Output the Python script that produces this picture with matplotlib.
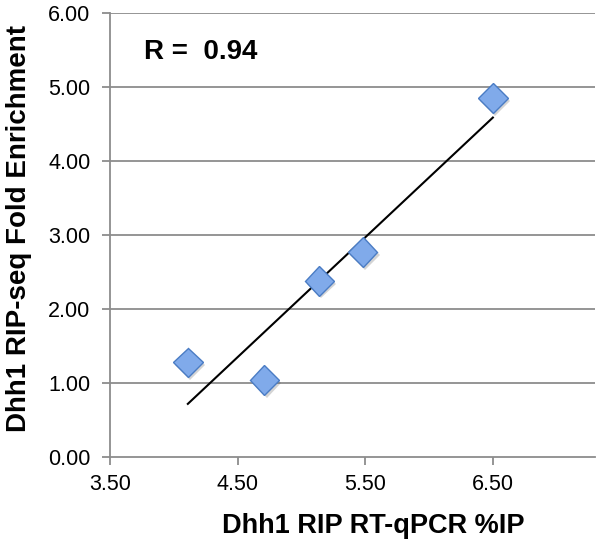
import matplotlib.pyplot as plt
import matplotlib.patheffects as pe
import numpy as np

plt.rcParams['font.family'] = ['Liberation Sans', 'DejaVu Sans']

# valores
pct_ip = [4.11, 4.71, 5.14, 5.48, 6.50]
fold_enr = [1.28, 1.04, 2.38, 2.77, 4.85]
xticks = [3.5, 4.5, 5.5, 6.5]
yticks = [0, 1, 2, 3, 4, 5, 6]

fig = plt.figure(figsize=(6.03, 5.47), dpi=100)
ax = fig.add_axes([0.1824, 0.1645, 0.8043, 0.8115])

gris = '#8c8c8c'
for y in yticks[1:]:
    ax.axhline(y, color=gris, lw=1.3, zorder=1)

# linea de tendencia (minimos cuadrados)
m, b = np.polyfit(pct_ip, fold_enr, 1)
xs = np.array([min(pct_ip), max(pct_ip)])
ax.plot(xs, m * xs + b, color='black', lw=1.5, zorder=2)

ax.plot(pct_ip, fold_enr, linestyle='none', marker='D', markersize=15,
        markerfacecolor='#80aaea', markeredgecolor='#4a7cc4', markeredgewidth=1.0,
        zorder=3,
        path_effects=[pe.SimplePatchShadow(offset=(1.5, -2), alpha=0.25, shadow_rgbFace='#555555'),
                      pe.Normal()])

ax.set_xlim(3.5, 7.3)
ax.set_ylim(0, 6)
ax.set_xticks(xticks)
ax.set_yticks(yticks)
ax.set_xticklabels(['%.2f' % v for v in xticks])
ax.set_yticklabels(['%.2f' % v for v in yticks])
ax.tick_params(axis='both', colors=gris, labelcolor='black', labelsize=15.5,
               length=6, width=1.3, direction='out')
ax.tick_params(axis='y', pad=8)
ax.tick_params(axis='x', pad=6)

for s in ['top', 'right']:
    ax.spines[s].set_visible(False)
for s in ['left', 'bottom']:
    ax.spines[s].set_color(gris)
    ax.spines[s].set_linewidth(1.3)

ax.set_xlabel('Dhh1 RIP RT-qPCR %IP', fontsize=19.5, fontweight='bold', labelpad=13)
ax.xaxis.label.set_x(0.542)
ax.set_ylabel('Dhh1 RIP-seq Fold Enrichment', fontsize=20, fontweight='bold', labelpad=12)
ax.yaxis.label.set_y(0.515)

ax.text(3.77, 5.47, 'R =  0.94', fontsize=20, fontweight='bold', va='center', ha='left')

fig.savefig('out.png', dpi=100)
